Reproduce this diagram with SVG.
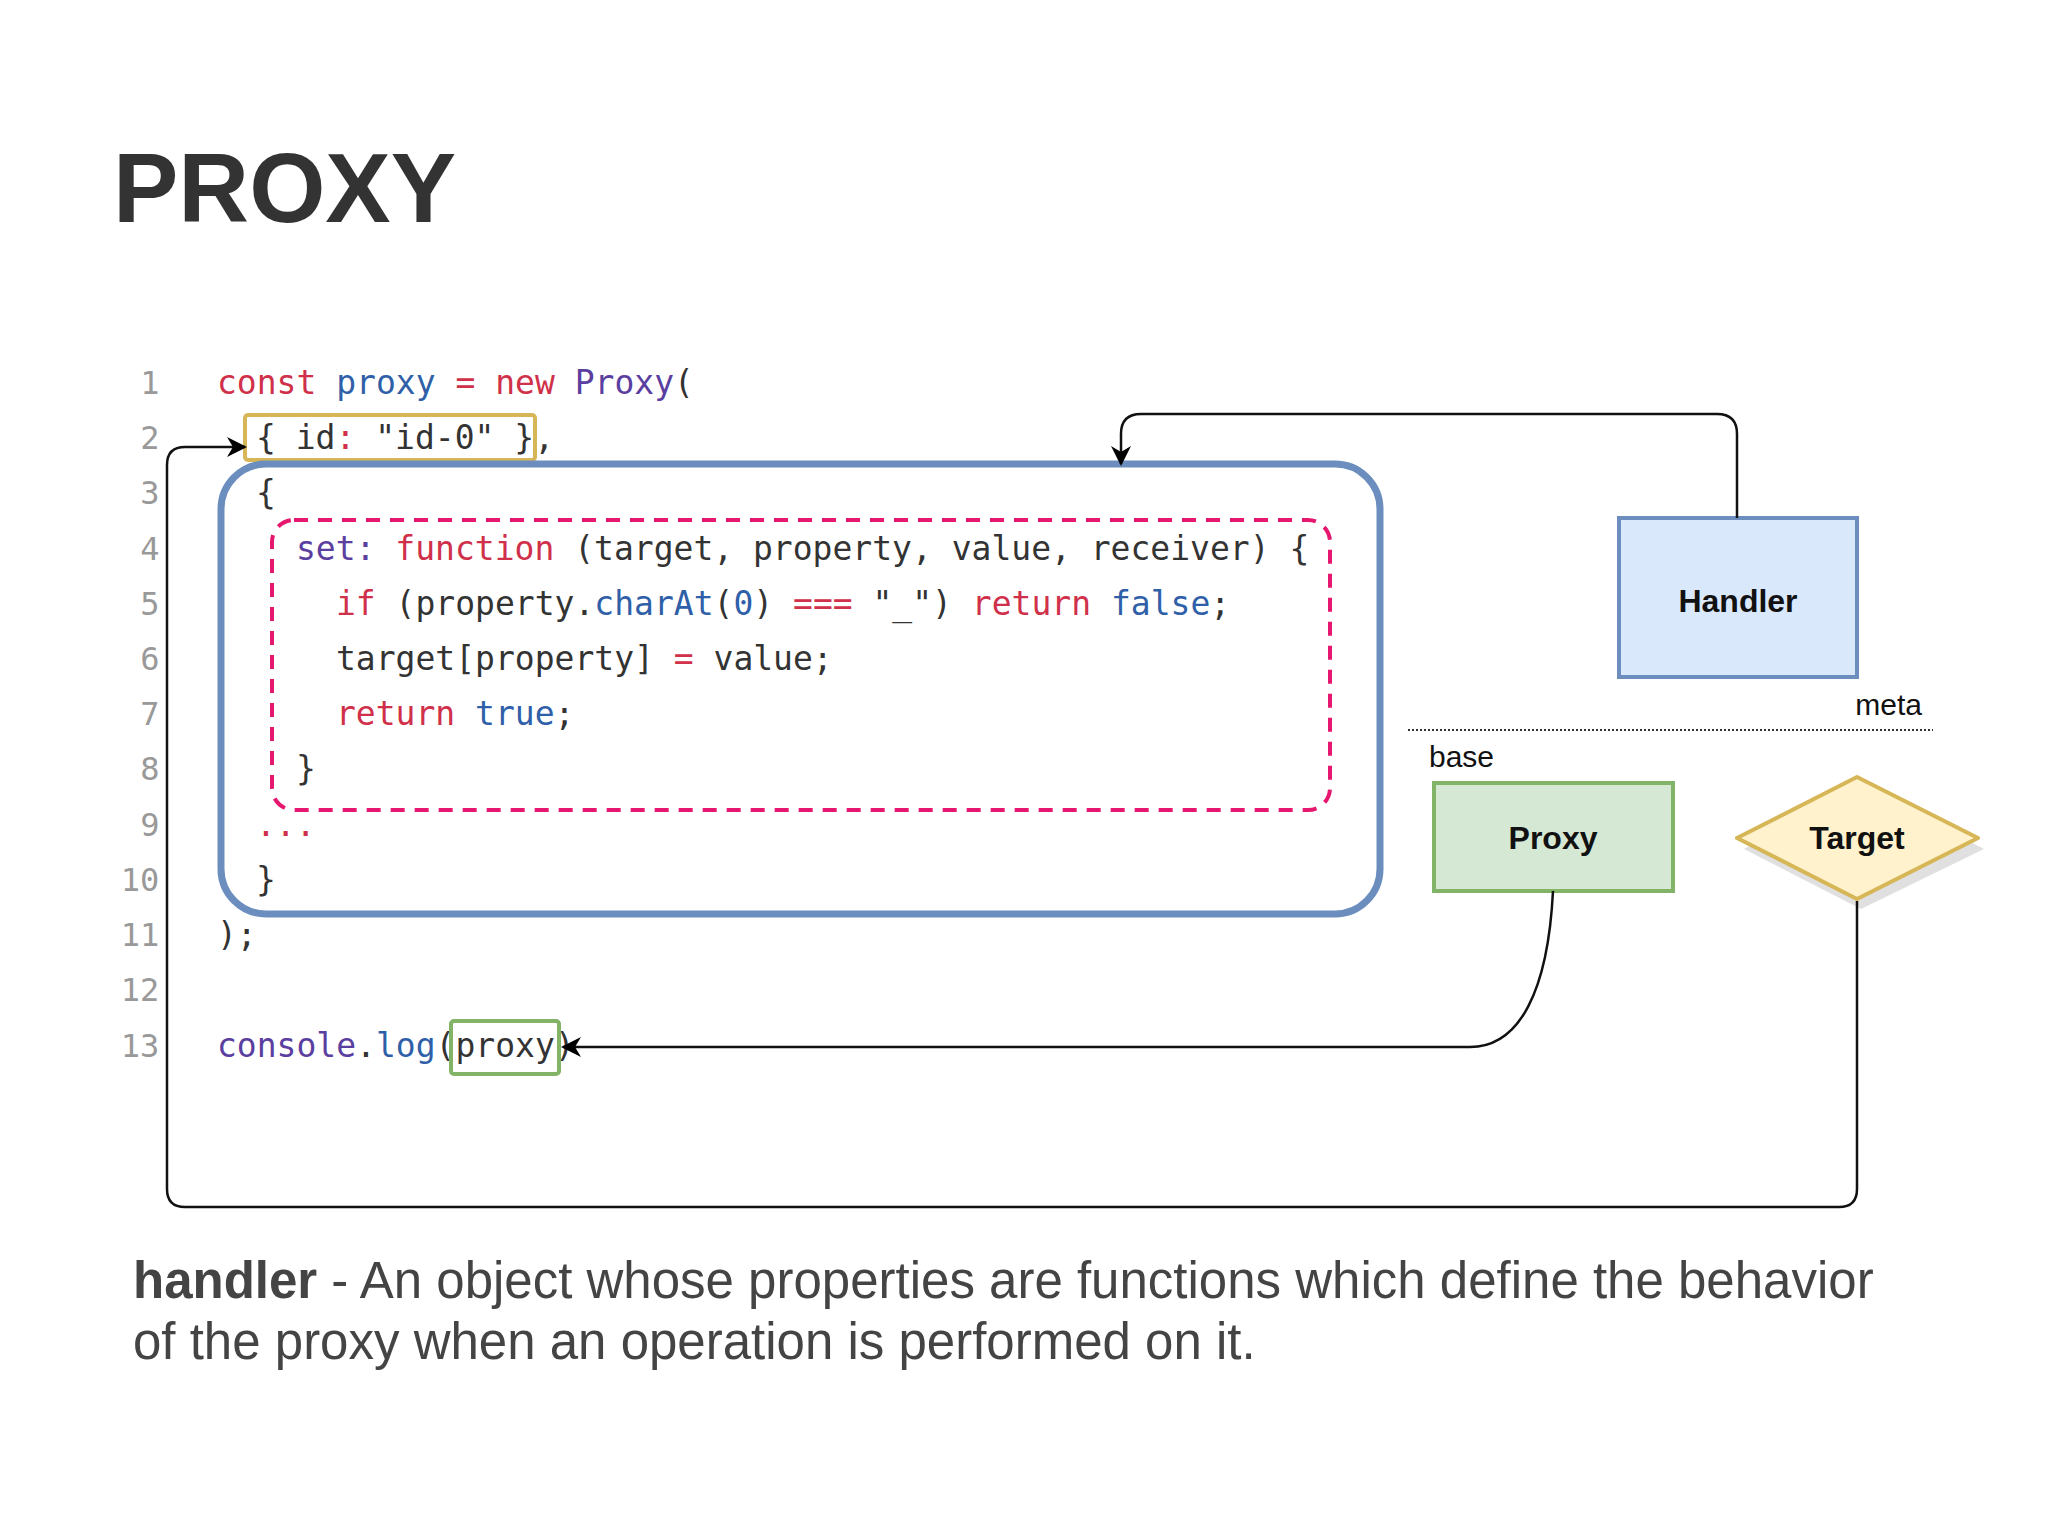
<svg xmlns="http://www.w3.org/2000/svg" width="2048" height="1536" viewBox="0 0 2048 1536">
<defs>
<marker id="ah" viewBox="0 0 10 10" refX="9" refY="5" markerWidth="20" markerHeight="20" orient="auto" markerUnits="userSpaceOnUse"><path d="M0,0 L10,5 L0,10 L3,5 Z" fill="#000"/></marker>
<style>
.code{font-family:"DejaVu Sans Mono",monospace;font-size:33px;fill:#333;white-space:pre}
.ln{font-family:"DejaVu Sans Mono",monospace;font-size:32px;fill:#999;text-anchor:middle}
.k{fill:#d0304a}.b{fill:#2f5fa8}.p{fill:#5a3ea0}
.node{font-family:"Liberation Sans",sans-serif;font-weight:bold;font-size:32px;text-anchor:middle;fill:#111}
.lbl{font-family:"Liberation Sans",sans-serif;font-size:30px;fill:#111}
.con{fill:none;stroke:#111;stroke-width:2.5}
</style>
</defs>
<rect width="2048" height="1536" fill="#fff"/>
<text x="113" y="222" font-family="Liberation Sans,sans-serif" font-weight="bold" font-size="98" fill="#333">PROXY</text>

<g id="linenumbers">
<text class="ln" x="150" y="394">1</text><text class="ln" x="150" y="449">2</text><text class="ln" x="150" y="504">3</text><text class="ln" x="150" y="560">4</text><text class="ln" x="150" y="615">5</text><text class="ln" x="150" y="670">6</text><text class="ln" x="150" y="725">7</text><text class="ln" x="150" y="780">8</text><text class="ln" x="150" y="836">9</text><text class="ln" x="140" y="891">10</text><text class="ln" x="140" y="946">11</text><text class="ln" x="140" y="1001">12</text><text class="ln" x="140" y="1057">13</text>
</g>
<g id="code">
<text class="code" x="217" y="394"><tspan class="k">const</tspan> <tspan class="b">proxy</tspan> <tspan class="k">=</tspan> <tspan class="k">new</tspan> <tspan class="p">Proxy</tspan>(</text>
<text class="code" x="256" y="449">{ id<tspan class="k">:</tspan> "id-0" },</text>
<text class="code" x="256" y="504">{</text>
<text class="code" x="296" y="560"><tspan class="p">set:</tspan> <tspan class="k">function</tspan> (target, property, value, receiver) {</text>
<text class="code" x="336" y="615"><tspan class="k">if</tspan> (property.<tspan class="b">charAt</tspan>(<tspan class="b">0</tspan>) <tspan class="k">===</tspan> "_") <tspan class="k">return</tspan> <tspan class="b">false</tspan>;</text>
<text class="code" x="336" y="670">target[property] <tspan class="k">=</tspan> value;</text>
<text class="code" x="336" y="725"><tspan class="k">return</tspan> <tspan class="b">true</tspan>;</text>
<text class="code" x="296" y="780">}</text>
<text class="code k" x="256" y="836">...</text>
<text class="code" x="256" y="891">}</text>
<text class="code" x="217" y="946">);</text>
<text class="code" x="217" y="1057"><tspan class="p">console</tspan>.<tspan class="b">log</tspan>(proxy)</text>
</g>

<g id="target-box"><rect x="245" y="415" width="290" height="45" rx="3" fill="none" stroke="#d6b656" stroke-width="4"/></g>
<g id="handler-box"><rect x="221" y="464" width="1159" height="450" rx="45" fill="none" stroke="#6c8ebf" stroke-width="7"/></g>
<g id="set-trap"><rect x="272" y="520" width="1058" height="290" rx="22" fill="none" stroke="#e6176e" stroke-width="4" stroke-dasharray="14,10"/></g>
<g id="proxy-box"><rect x="451" y="1021" width="108" height="53" rx="3" fill="none" stroke="#82b366" stroke-width="4"/></g>

<g id="handler"><rect x="1619" y="518" width="238" height="159" fill="#dae8fc" stroke="#6c8ebf" stroke-width="4"/><text class="node" x="1738" y="612">Handler</text></g>
<g id="divider"><line x1="1408" y1="730" x2="1933" y2="730" stroke="#333" stroke-width="2" stroke-dasharray="2,2"/><text class="lbl" x="1922" y="715" text-anchor="end">meta</text><text class="lbl" x="1429" y="767">base</text></g>
<g id="proxy"><rect x="1434" y="783" width="239" height="108" fill="#d5e8d4" stroke="#82b366" stroke-width="4"/><text class="node" x="1553" y="849">Proxy</text></g>
<g id="target"><path d="M1740,843 L1857,779 L1980,843 L1857,903 Z" fill="#ccc" opacity="0.6" transform="translate(4,6)"/><path d="M1737,838 L1857,777 L1978,838 L1857,899 Z" fill="#fff2cc" stroke="#d6b656" stroke-width="4" stroke-linejoin="round"/><text class="node" x="1857" y="849">Target</text></g>

<g id="connectors">
<path class="con" d="M1737,518 L1737,434 Q1737,414 1717,414 L1141,414 Q1121,414 1121,434 L1121,464" marker-end="url(#ah)"/>
<path class="con" d="M1553,891 C1548,990 1520,1047 1470,1047 L563,1047" marker-end="url(#ah)"/>
<path class="con" d="M1857,901 L1857,1189 Q1857,1207 1839,1207 L185,1207 Q167,1207 167,1189 L167,465 Q167,447 185,447 L245,447" marker-end="url(#ah)"/>
</g>

<g id="caption" font-family="Liberation Sans,sans-serif" font-size="51" fill="#444">
<text x="133" y="1298"><tspan font-weight="bold">handler</tspan> - An object whose properties are functions which define the behavior</text>
<text x="133" y="1359">of the proxy when an operation is performed on it.</text>
</g>
</svg>
